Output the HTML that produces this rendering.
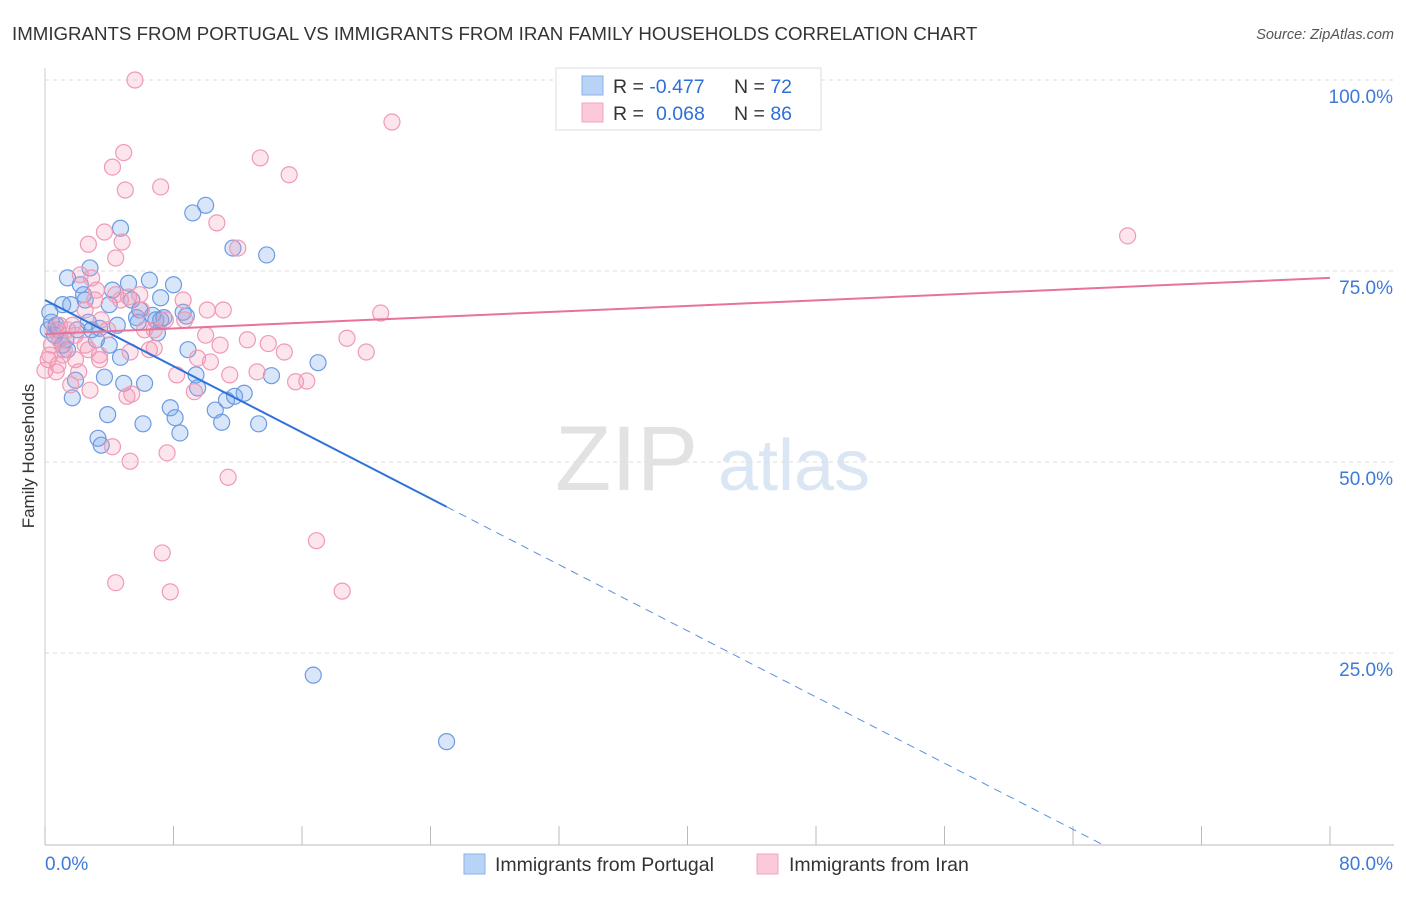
<!DOCTYPE html>
<html><head><meta charset="utf-8"><style>
body{margin:0;background:#fff;font-family:"Liberation Sans",sans-serif;}
svg text{font-family:"Liberation Sans",sans-serif;}
</style></head><body>
<svg id="chart" width="1406" height="892">
<text x="12" y="40" font-size="18.7" fill="#333">IMMIGRANTS FROM PORTUGAL VS IMMIGRANTS FROM IRAN FAMILY HOUSEHOLDS CORRELATION CHART</text>
<text x="1394" y="39" font-size="14.5" fill="#555" font-style="italic" text-anchor="end">Source: ZipAtlas.com</text>
<g><text x="555" y="490" font-size="92" fill="#e2e2e2" font-family="Liberation Serif">ZIP</text><text x="718" y="490" font-size="72" fill="#dbe6f5">atlas</text></g>
<g id="grid"></g><g id="axes"></g><g id="pts"></g><g id="lines"></g>
<text x="34" y="456" font-size="17" fill="#333" transform="rotate(-90 34 456)" text-anchor="middle">Family Households</text>
<g>
<rect x="556" y="68" width="265" height="62" fill="#fff" stroke="#ddd"/>
<rect x="582" y="76" width="21" height="19" fill="#b9d3f7" stroke="#8ab2ea"/>
<rect x="582" y="103" width="21" height="19" fill="#fcc9d8" stroke="#f3a3bd"/>
<text x="613" y="93" font-size="19.5" fill="#333">R = <tspan fill="#2f6fd6">-0.477</tspan><tspan x="734">N = </tspan><tspan fill="#2f6fd6">72</tspan></text>
<text x="613" y="120" font-size="19.5" fill="#333">R = <tspan x="656" fill="#2f6fd6">0.068</tspan><tspan x="734">N = </tspan><tspan fill="#2f6fd6">86</tspan></text>
</g>
<g>
<rect x="464" y="854" width="21" height="20" fill="#b9d3f7" stroke="#8ab2ea"/>
<text x="495" y="871" font-size="19.5" fill="#333">Immigrants from Portugal</text>
<rect x="757" y="854" width="21" height="20" fill="#fcc9d8" stroke="#f3a3bd"/>
<text x="789" y="871" font-size="19.5" fill="#333">Immigrants from Iran</text>
</g>
</svg>
<script>
const yTicks=[25,50,75,100];
const yTickLabels=["25.0%","50.0%","75.0%","100.0%"];
const xTicks=[0,8,16,24,32,40,48,56,64,72,80];
const bx=[0.2,0.4,0.6,0.9,1.4,1.1,1.6,1.4,1.7,1.9,2.2,2.4,2.8,2.7,2.9,3.2,3.3,3.5,3.7,3.9,4.0,4.2,4.5,4.7,4.7,4.9,5.2,5.4,5.7,5.9,6.1,6.2,6.5,6.7,6.9,7.0,7.2,7.4,7.8,8.0,8.1,8.4,8.6,8.8,8.9,9.2,9.4,9.5,10.0,10.6,11.0,11.3,11.7,11.8,12.4,13.3,13.8,14.1,17.0,16.7,25.0,0.7,1.1,2.5,4.0,2.0,3.4,5.8,7.2,0.3,0.8,1.3];
const by=[67.3,68.3,66.6,66.0,74.1,70.6,70.6,64.7,58.4,60.7,73.2,71.9,75.4,68.3,67.3,66.0,53.1,52.2,61.1,56.2,70.6,72.5,67.9,63.7,80.6,60.3,73.4,71.2,68.9,69.9,55.0,60.3,73.8,69.2,68.6,66.9,71.5,68.9,57.1,73.2,55.8,53.8,69.6,69.1,64.7,82.6,61.4,59.7,83.6,56.8,55.2,58.1,78.0,58.6,59.0,55.0,77.1,61.3,63.0,22.1,13.4,67.9,65.3,71.2,65.3,67.3,67.5,68.3,68.6,69.6,67.3,66.0];
const px=[5.6,21.6,4.9,4.2,5.0,7.2,13.4,15.2,10.7,12.0,2.7,3.7,4.8,4.4,2.9,2.2,3.2,4.4,5.2,6.0,8.6,10.1,11.1,20.9,12.6,13.9,14.9,18.8,20.0,0.6,0.9,1.2,0.3,0.8,1.7,1.9,2.5,3.4,5.3,6.5,6.8,8.2,9.5,10.3,11.5,13.2,15.6,16.3,1.6,2.8,5.1,5.4,9.3,4.2,5.3,7.6,11.4,16.9,7.3,4.4,7.8,18.5,67.4,0.2,0.4,0.0,1.1,2.1,3.1,3.5,3.9,5.9,6.8,8.7,10.0,10.9,0.9,1.4,2.5,4.7,6.2,7.5,3.4,1.9,0.7,2.7];
const py=[100.0,94.5,90.5,88.6,85.6,86.0,89.8,87.6,81.3,78.0,78.5,80.1,78.8,76.7,74.1,74.5,72.5,71.9,71.6,69.9,71.2,69.9,69.9,69.5,66.0,65.5,64.4,66.2,64.4,67.3,66.0,64.7,64.0,62.7,67.9,66.6,65.3,64.0,64.4,64.7,64.9,61.4,63.6,63.1,61.4,61.8,60.5,60.6,60.1,59.4,58.6,58.9,59.2,52.0,50.1,51.2,48.0,39.7,38.1,34.2,33.0,33.1,79.6,63.4,65.3,62.0,64.0,61.8,71.2,68.6,67.3,71.9,67.3,68.6,66.6,65.3,67.9,67.3,69.9,71.2,67.3,68.6,63.4,63.4,61.8,64.7];
const blueLine=[71.2,-15.4];
const pinkLine=[66.75,74.1];
const X=v=>45+v/80*1285, Y=v=>844-v/100*764;
const NS="http://www.w3.org/2000/svg";
function mk(tag,attrs,parent){const e=document.createElementNS(NS,tag);for(const k in attrs)e.setAttribute(k,attrs[k]);document.getElementById(parent).appendChild(e);return e;}
yTicks.forEach((t,i)=>{
 const g=mk('line',{x1:45,x2:1394,y1:Y(t),y2:Y(t),stroke:'#ddd','stroke-dasharray':'4,4'},'grid');
 
 
 const tx=mk('text',{x:1393,y:Y(t)+23,'font-size':19,fill:'#3d7ad8','text-anchor':'end'},'axes');
 tx.textContent=yTickLabels[i];
 
 
});
const ax=mk('line',{x1:45,x2:1394,y1:845,y2:845,stroke:'#bbb'},'axes');


const ay=mk('line',{x1:45,x2:45,y1:68,y2:845,stroke:'#ccc'},'axes');


xTicks.forEach(t=>{
 const l=mk('line',{x1:X(t),x2:X(t),y1:826,y2:845,stroke:'#bbb'},'axes');
 
 
});
[[0,'0.0%','start',45],[80,'80.0%','end',1393]].forEach(a=>{
 const t=mk('text',{x:a[3],y:870,'font-size':19,fill:'#3d7ad8','text-anchor':a[2]},'axes');
 t.textContent=a[1];
 
 
});
bx.forEach((v,i)=>{
 const c=mk('circle',{cx:X(v),cy:Y(by[i]),r:8,fill:'rgba(120,165,235,0.28)',stroke:'#6c9be2','stroke-width':1.2},'pts');
 
 
});
px.forEach((v,i)=>{
 const c=mk('circle',{cx:X(v),cy:Y(py[i]),r:8,fill:'rgba(245,150,180,0.25)',stroke:'#f09ab5','stroke-width':1.2},'pts');
 
 
});
const by2=v=>blueLine[0]+(blueLine[1]-blueLine[0])*v/80;
const l1=mk('line',{x1:X(0),y1:Y(by2(0)),x2:X(25),y2:Y(by2(25)),stroke:'#2f72d8','stroke-width':2},'lines');


const xEnd=80*(blueLine[0])/(blueLine[0]-blueLine[1]);
const l2=mk('line',{x1:X(25),y1:Y(by2(25)),x2:X(xEnd),y2:Y(0),stroke:'#5a8fe0','stroke-width':1,'stroke-dasharray':'8,6'},'lines');


const l3=mk('line',{x1:X(0),y1:Y(pinkLine[0]),x2:X(80),y2:Y(pinkLine[1]),stroke:'#e8729a','stroke-width':2},'lines');


</script>
</body></html>
